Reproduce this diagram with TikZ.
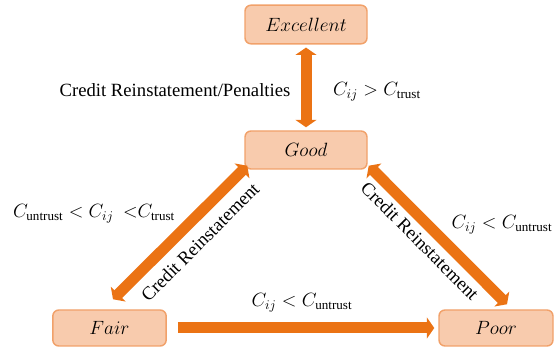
\documentclass[tikz,border=0pt]{standalone}
\usepackage{fontspec}
\setmainfont{Liberation Serif}
\usetikzlibrary{arrows.meta}

\definecolor{boxfill}{RGB}{248,203,173}
\definecolor{boxline}{RGB}{241,161,106}
\definecolor{arrcol}{RGB}{235,115,20}

\begin{document}
\begin{tikzpicture}[x=0.75pt, y=-0.75pt,
	state/.style={rectangle, draw=boxline, line width=1.1pt, fill=boxfill, rounded corners=4.5pt, font=\fontsize{14}{16}\selectfont},
	lbl/.style={font=\fontsize{14}{16}\selectfont, inner sep=0pt},
	fat/.style={draw=arrcol, line width=8.25pt},
	tip/.tip={Triangle[length=5.5pt, width=15.5pt]}]

\useasboundingbox (0,0) rectangle (554,349);

\node at (306,24.5) [state, minimum width=91.5pt, minimum height=29pt] (excellent) {$Excellent$};
\node at (306,150) [state, minimum width=91.5pt, minimum height=28.5pt] (good) {$Good$};
\node at (109.5,328) [state, minimum width=85pt, minimum height=27pt] (fair) {$Fair$};
\node at (496,328) [state, minimum width=85.5pt, minimum height=27pt] (poor) {$Poor$};

\node at (175,90) [lbl] (penalty) {Credit Reinstatement/Penalties};
\node at (377,92) [lbl] (trust) {$C_{ij} > C_{\mathrm{trust}}$};
\node at (94,214) [lbl] (mid) {$C_{\mathrm{untrust}} < C_{ij}\ \ {<}C_{\mathrm{trust}}$};
\node at (502,225) [lbl] (untrustr) {$C_{ij} < C_{\mathrm{untrust}}$};
\node at (302,303) [lbl] (untrustb) {$C_{ij} < C_{\mathrm{untrust}}$};
\node at (200,242) [lbl, rotate=45] (reinl) {Credit Reinstatement};
\node at (420,241) [lbl, rotate=-45] (reinr) {Credit Reinstatement};

\draw [fat, tip-tip] ([yshift=-2.25pt]excellent.south) -- ([yshift=2.25pt]good.north);
\draw [fat, tip-tip] ([shift={(3.5,-10)}]fair.north) -- ([shift={(3,-4)}]good.south west);
\draw [fat, tip-tip] ([shift={(1,-4)}]good.south east) -- ([shift={(11,-5)}]poor.north);
\draw [fat, -tip] ([shift={(11,0)}]fair.east) -- ([shift={(-4,0)}]poor.west);

\end{tikzpicture}
\end{document}
